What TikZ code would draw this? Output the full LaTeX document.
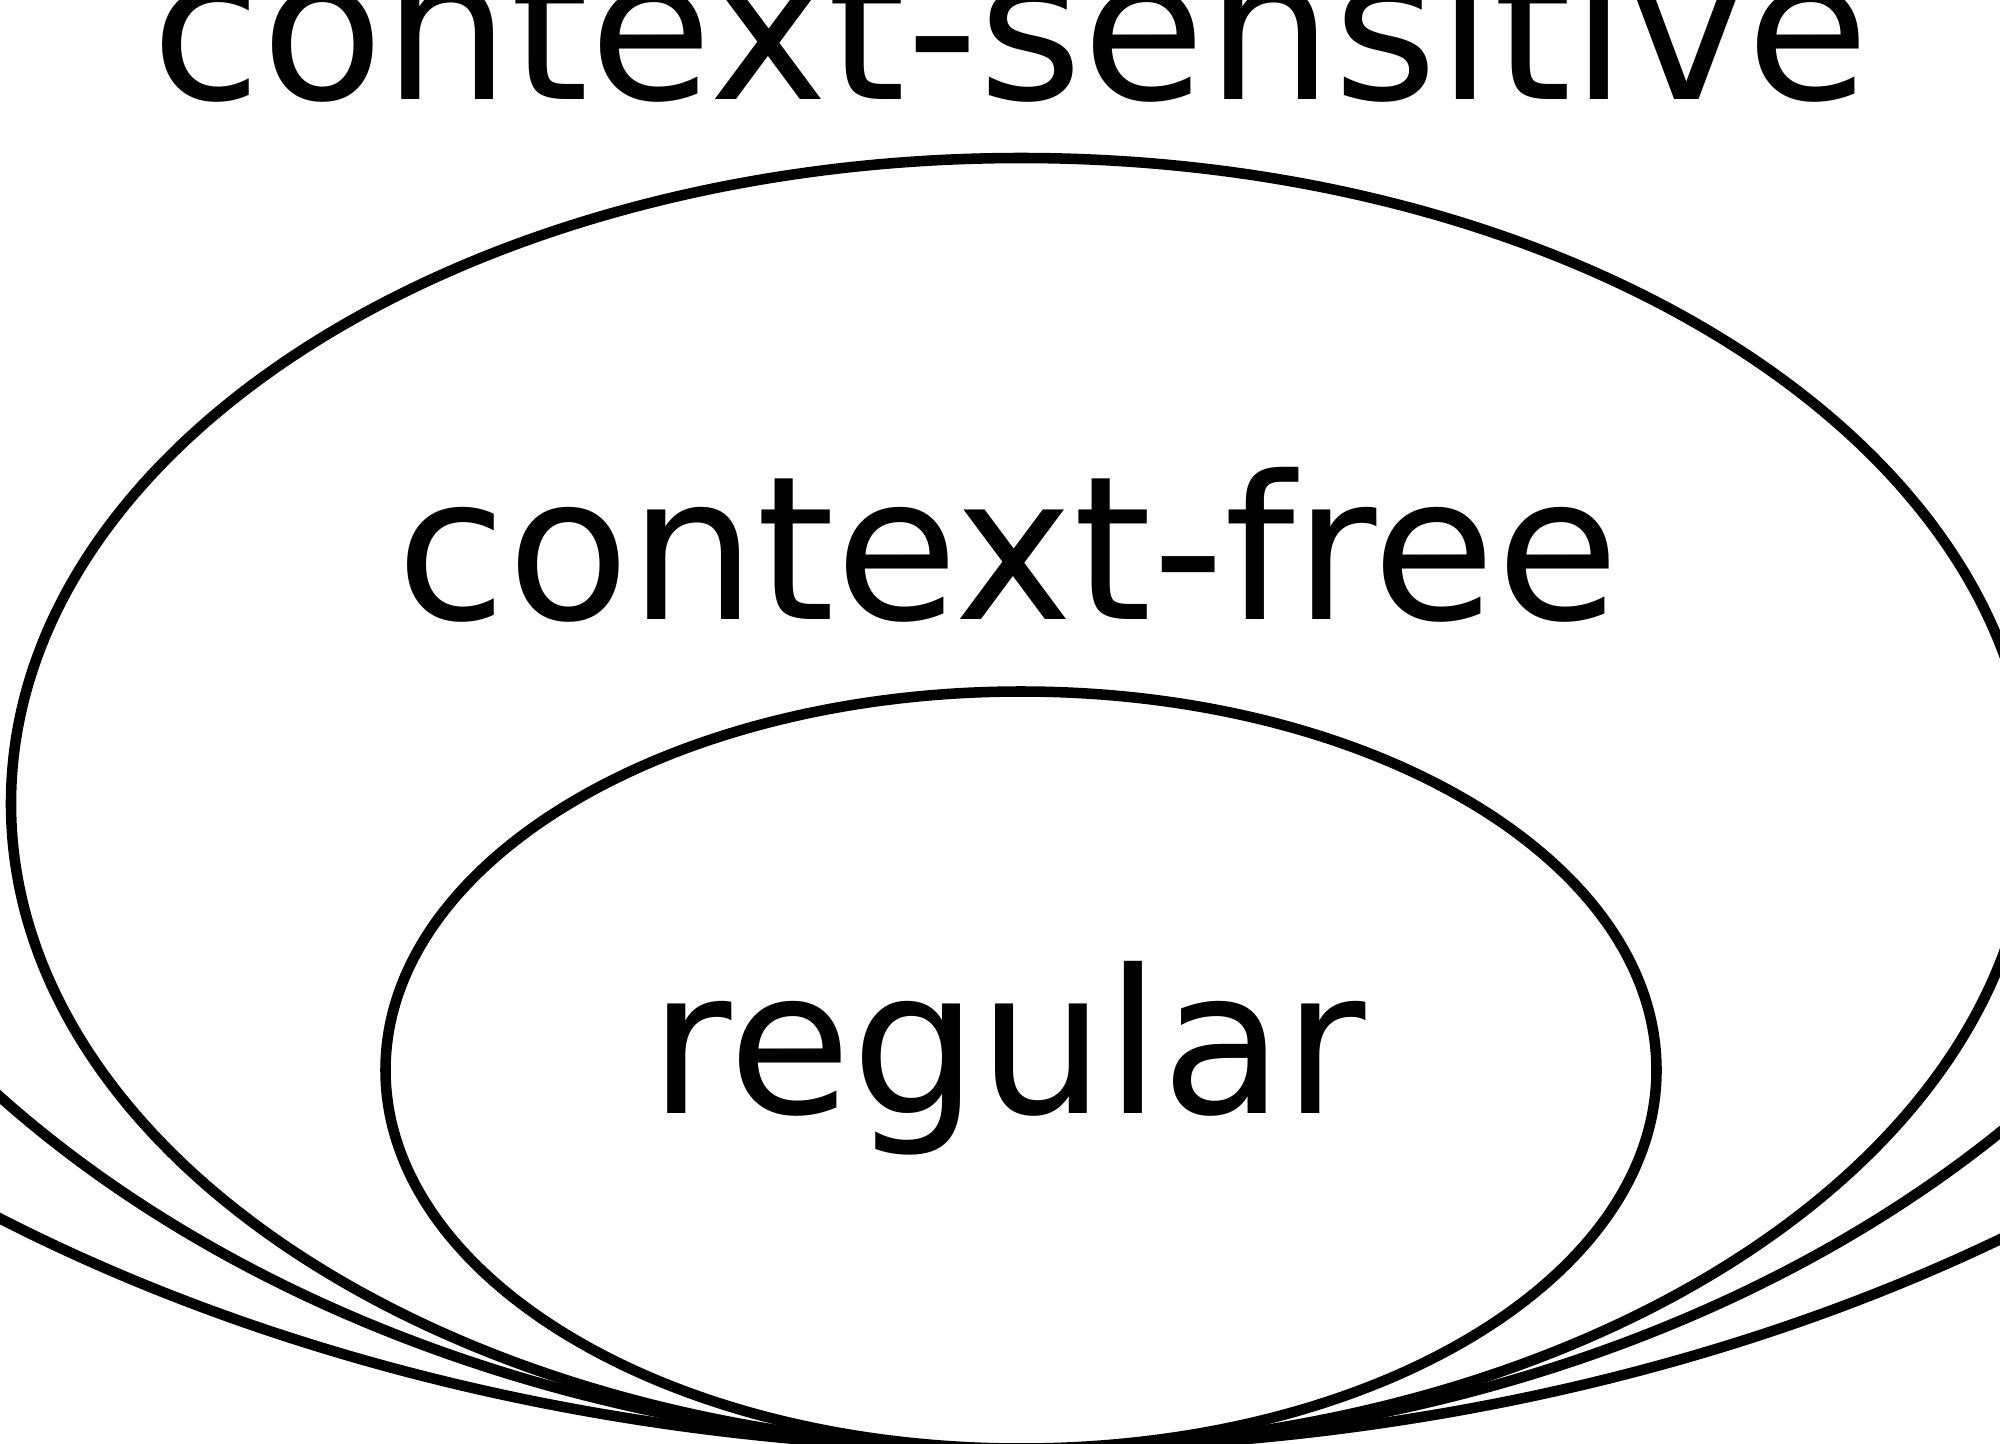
\documentclass[tikz,border=0pt]{standalone}
\usepackage{fontspec}
\setmainfont{DejaVu Sans}
\begin{document}
\begin{tikzpicture}[
  set/.style={draw=black, line width=3pt},
  lbl/.style={inner sep=0pt, anchor=base, font=\fontsize{57}{68}\selectfont}
]
\useasboundingbox (0,0) rectangle (20,-14.43);
\begin{scope}
\clip (0,0) rectangle (20,-14.43);
\fill[white] (0,0) rectangle (20,-14.43);
\draw[set] (10.21,-3.29) ellipse [x radius=16.80cm, y radius=11.20cm];
\draw[set] (10.21,-4.89) ellipse [x radius=13.19cm, y radius=9.60cm];
\draw[set] (10.21,-8.035) ellipse [x radius=10.10cm, y radius=6.455cm];
\draw[set] (10.21,-10.70) ellipse [x radius=6.355cm, y radius=3.785cm];
\node[lbl] (cs) at (10.10,-0.99) {context-sensitive};
\node[lbl] (cf) at (10.08,-6.19) {context-free};
\node[lbl] (reg) at (10.08,-11.13) {regular};
\end{scope}
\end{tikzpicture}
\end{document}
